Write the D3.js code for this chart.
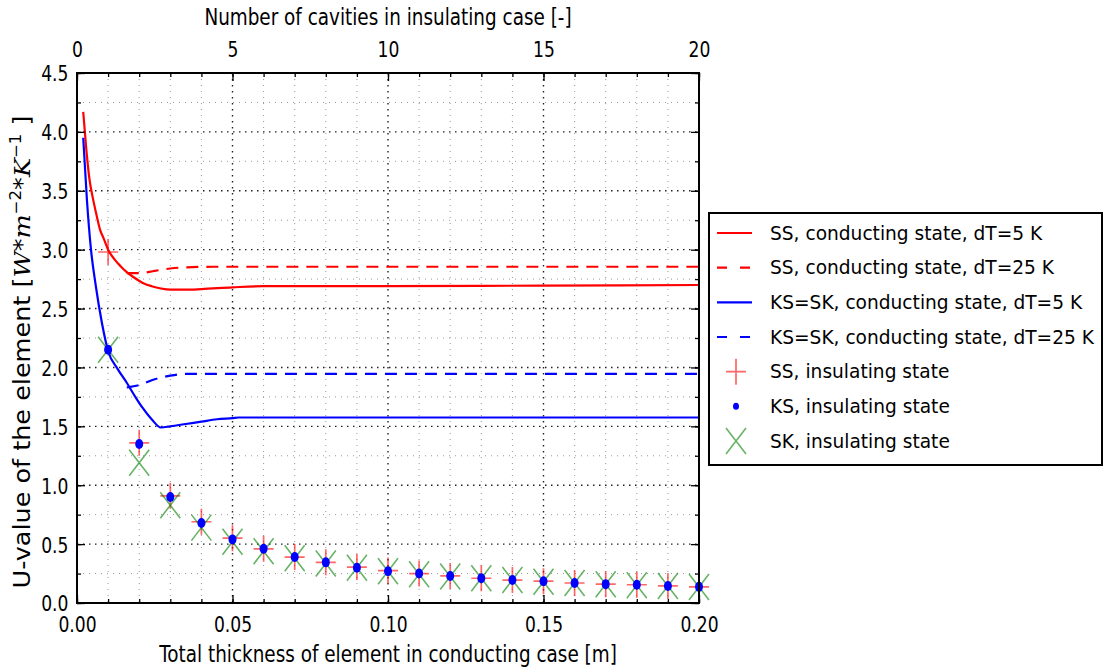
<!DOCTYPE html>
<html>
<head>
<meta charset="utf-8">
<script src="https://cdn.jsdelivr.net/npm/d3@7/dist/d3.min.js"></script>
<style>
  body { margin: 0; background: #fff; }
  text { font-family: "DejaVu Sans", sans-serif; fill: #000; }
</style>
</head>
<body>
<svg id="chart" width="1106" height="671"></svg>
<script>
// conducting state curves (thickness in m -> U-value)
var ssX5 = [0.002, 0.003, 0.004, 0.005, 0.0064, 0.0074, 0.0085, 0.01, 0.012, 0.014, 0.016, 0.018, 0.021, 0.024, 0.027, 0.03, 0.035, 0.04, 0.05, 0.06, 0.08, 0.1, 0.15, 0.2];
var ssY5 = [4.17, 3.85, 3.6, 3.45, 3.28, 3.17, 3.1, 3.0, 2.92, 2.86, 2.81, 2.77, 2.72, 2.69, 2.67, 2.66, 2.66, 2.665, 2.68, 2.69, 2.69, 2.69, 2.695, 2.70];
var ssX25 = [0.016, 0.02, 0.025, 0.03, 0.035, 0.045, 0.06, 0.2];
var ssY25 = [2.80, 2.80, 2.82, 2.84, 2.85, 2.855, 2.855, 2.855];
var ksX5 = [0.002, 0.0032, 0.0045, 0.006, 0.008, 0.01, 0.013, 0.016, 0.019, 0.021, 0.024, 0.027, 0.03, 0.035, 0.04, 0.045, 0.05, 0.052, 0.08, 0.12, 0.2];
var ksY5 = [3.95, 3.42, 3.0, 2.7, 2.38, 2.14, 1.99, 1.87, 1.74, 1.66, 1.56, 1.49, 1.50, 1.52, 1.54, 1.56, 1.57, 1.575, 1.575, 1.575, 1.575];
var ksX25 = [0.016, 0.02, 0.025, 0.03, 0.035, 0.05, 0.2];
var ksY25 = [1.83, 1.85, 1.90, 1.93, 1.945, 1.945, 1.945];

// insulating state points (one per cavity)
var cavX = [0.01, 0.02, 0.03, 0.04, 0.05, 0.06, 0.07, 0.08, 0.09, 0.10, 0.11, 0.12, 0.13, 0.14, 0.15, 0.16, 0.17, 0.18, 0.19, 0.20];
var ssIns = [2.98, 1.36, 0.91, 0.69, 0.55, 0.46, 0.39, 0.345, 0.305, 0.275, 0.25, 0.23, 0.21, 0.195, 0.185, 0.17, 0.16, 0.155, 0.145, 0.137];
var ksIns = [2.15, 1.35, 0.90, 0.68, 0.54, 0.46, 0.39, 0.345, 0.30, 0.27, 0.25, 0.23, 0.21, 0.195, 0.185, 0.17, 0.16, 0.155, 0.145, 0.137];
var skIns = [2.15, 1.19, 0.83, 0.64, 0.52, 0.44, 0.38, 0.335, 0.30, 0.27, 0.245, 0.225, 0.21, 0.195, 0.18, 0.17, 0.16, 0.15, 0.145, 0.135];

var xTicks = [0, 0.05, 0.10, 0.15, 0.20];
var topTicks = [0, 5, 10, 15, 20];
var yTicks = [0, 0.5, 1.0, 1.5, 2.0, 2.5, 3.0, 3.5, 4.0, 4.5];

var legendLabels = ["SS, conducting state, dT=5 K", "SS, conducting state, dT=25 K",
  "KS=SK, conducting state, dT=5 K", "KS=SK, conducting state, dT=25 K",
  "SS, insulating state", "KS, insulating state", "SK, insulating state"];

var pL = 77, pR = 699, pT = 73, pB = 603;
var sx = 0.78; // text looks squeezed sideways in the reference

var svg = d3.select("#chart");

var x = d3.scaleLinear().domain([0, 0.2]).range([pL, pR]);
var x2 = d3.scaleLinear().domain([0, 20]).range([pL, pR]);
var y = d3.scaleLinear().domain([0, 4.5]).range([pB, pT]);

// grid
var grid = svg.append("g");
d3.range(1, 20).forEach(function(i) {
  var v = i / 100, major = i % 5 == 0;
  grid.append("line")
    .attr("x1", x(v)).attr("x2", x(v)).attr("y1", pT).attr("y2", pB)
    .attr("stroke", major ? "#222" : "#999")
    .attr("stroke-width", major ? 1.4 : 1)
    .attr("stroke-dasharray", major ? "1.5,4.5" : "1,5");
});
d3.range(1, 18).forEach(function(i) {
  var v = i * 0.25, major = i % 2 == 0;
  grid.append("line")
    .attr("x1", pL).attr("x2", pR).attr("y1", y(v)).attr("y2", y(v))
    .attr("stroke", major ? "#222" : "#999")
    .attr("stroke-width", major ? 1.4 : 1)
    .attr("stroke-dasharray", major ? "1.5,4.5" : "1,5");
});

// lines
var line = d3.line()
  .x(function(d) { return x(d[0]); })
  .y(function(d) { return y(d[1]); })
  .curve(d3.curveMonotoneX);

function zip(a, b) { return a.map(function(v, i) { return [v, b[i]]; }); }

var curves = [
  {data: zip(ssX5, ssY5), color: "#ff0000", dash: null},
  {data: zip(ssX25, ssY25), color: "#ff0000", dash: "12,8"},
  {data: zip(ksX5, ksY5), color: "#0000ff", dash: null},
  {data: zip(ksX25, ksY25), color: "#0000ff", dash: "12,8"}
];
curves.forEach(function(c) {
  svg.append("path")
    .datum(c.data)
    .attr("d", line)
    .attr("fill", "none")
    .attr("stroke", c.color)
    .attr("stroke-width", 2.2)
    .attr("stroke-dasharray", c.dash);
});

// markers
function plus(g, cx, cy) {
  g.append("path")
    .attr("d", "M" + (cx - 10) + "," + cy + "H" + (cx + 10) + "M" + cx + "," + (cy - 13) + "V" + (cy + 13))
    .attr("stroke", "#ff0000").attr("stroke-opacity", 0.6).attr("stroke-width", 1.7).attr("fill", "none");
}
function cross(g, cx, cy) {
  g.append("path")
    .attr("d", "M" + (cx - 10) + "," + (cy - 13) + "L" + (cx + 10) + "," + (cy + 13) +
               "M" + (cx - 10) + "," + (cy + 13) + "L" + (cx + 10) + "," + (cy - 13))
    .attr("stroke", "#008000").attr("stroke-opacity", 0.6).attr("stroke-width", 1.6).attr("fill", "none");
}
function dot(g, cx, cy) {
  g.append("ellipse").attr("cx", cx).attr("cy", cy).attr("rx", 4).attr("ry", 5)
    .attr("fill", "#0000ff");
}

var marks = svg.append("g");
cavX.forEach(function(v, i) { plus(marks, x(v), y(ssIns[i])); });
cavX.forEach(function(v, i) { cross(marks, x(v), y(skIns[i])); });
cavX.forEach(function(v, i) { dot(marks, x(v), y(ksIns[i])); });

// axes
function styleTicks(g) {
  g.select(".domain").remove();
  g.selectAll("line").attr("stroke", "#000").attr("stroke-width", 1.3);
}

var xMinor = d3.range(0, 21).map(function(i) { return i / 100; });
svg.append("g").attr("transform", "translate(0," + pB + ")")
  .call(d3.axisBottom(x).tickValues(xMinor).tickSize(-4).tickFormat(""))
  .call(styleTicks);
svg.append("g").attr("transform", "translate(0," + pT + ")")
  .call(d3.axisTop(x2).tickValues(d3.range(0, 21)).tickSize(-4).tickFormat(""))
  .call(styleTicks);
var yMinor = d3.range(0, 19).map(function(i) { return i * 0.25; });
svg.append("g").attr("transform", "translate(" + pL + ",0)")
  .call(d3.axisLeft(y).tickValues(yMinor).tickSize(-4).tickFormat(""))
  .call(styleTicks);
svg.append("g").attr("transform", "translate(" + pR + ",0)")
  .call(d3.axisRight(y).tickValues(yMinor).tickSize(-4).tickFormat(""))
  .call(styleTicks);

var xAxis = svg.append("g").attr("transform", "translate(0," + pB + ")")
  .call(d3.axisBottom(x).tickValues(xTicks).tickSize(-8).tickPadding(13).tickFormat(d3.format(".2f")))
  .call(styleTicks);
var topAxis = svg.append("g").attr("transform", "translate(0," + pT + ")")
  .call(d3.axisTop(x2).tickValues(topTicks).tickSize(-8).tickPadding(16).tickFormat(d3.format("d")))
  .call(styleTicks);
var yAxis = svg.append("g").attr("transform", "translate(" + pL + ",0)")
  .call(d3.axisLeft(y).tickValues(yTicks).tickSize(-8).tickPadding(10).tickFormat(d3.format(".1f")))
  .call(styleTicks);
svg.append("g").attr("transform", "translate(" + pR + ",0)")
  .call(d3.axisRight(y).tickValues(yTicks).tickSize(-8).tickFormat(""))
  .call(styleTicks);

[xAxis, topAxis, yAxis].forEach(function(a) {
  a.selectAll("text")
    .style("font-family", "DejaVu Sans")
    .style("font-size", "22px")
    .attr("fill", "#000");
});
xAxis.selectAll("text").attr("transform", "scale(" + sx + ",1)");
topAxis.selectAll("text").attr("transform", "scale(" + sx + ",1)");
yAxis.selectAll("text").attr("x", -11).attr("dy", "0.36em")
  .attr("transform", "scale(" + sx + ",1)");

// frame
svg.append("rect")
  .attr("x", pL).attr("y", pT).attr("width", pR - pL).attr("height", pB - pT)
  .attr("fill", "none").attr("stroke", "#000").attr("stroke-width", 2);

// axis titles
svg.append("text")
  .attr("transform", "translate(" + ((pL + pR) / 2) + ",662) scale(0.8,1)")
  .attr("text-anchor", "middle")
  .style("font-size", "23px")
  .text("Total thickness of element in conducting case [m]");
svg.append("text")
  .attr("transform", "translate(" + ((pL + pR) / 2) + ",25) scale(0.8,1)")
  .attr("text-anchor", "middle")
  .style("font-size", "23px")
  .text("Number of cavities in insulating case [-]");

var ylab = svg.append("text")
  .attr("transform", "translate(30,352) rotate(-90) scale(1.11,1)")
  .attr("text-anchor", "middle")
  .style("font-size", "23px");
ylab.append("tspan").text("U-value of the element [");
var mathFont = "DejaVu Serif";
ylab.append("tspan").style("font-family", mathFont).style("font-style", "italic").text("W");
ylab.append("tspan").text("*");
ylab.append("tspan").style("font-family", mathFont).style("font-style", "italic").text("m");
ylab.append("tspan").attr("dy", -9).style("font-size", "15px").text("\u22122");
ylab.append("tspan").attr("dy", 9).text("*");
ylab.append("tspan").style("font-family", mathFont).style("font-style", "italic").text("K");
ylab.append("tspan").attr("dy", -9).style("font-size", "15px").text("\u22121");
ylab.append("tspan").attr("dy", 9).text(" ]");

// legend
var lg = svg.append("g");
lg.append("rect")
  .attr("x", 709).attr("y", 213).attr("width", 393).attr("height", 252)
  .attr("fill", "#fff").attr("stroke", "#000").attr("stroke-width", 2);

var rowY = d3.scaleLinear().domain([0, 6]).range([233, 441]);
legendLabels.forEach(function(lbl, i) {
  var cy = rowY(i);
  if (i < 4) {
    lg.append("line")
      .attr("x1", 717).attr("x2", 752).attr("y1", cy).attr("y2", cy)
      .attr("stroke", i < 2 ? "#ff0000" : "#0000ff")
      .attr("stroke-width", 2.2)
      .attr("stroke-dasharray", i % 2 == 1 ? "10,13" : null);
  } else if (i == 4) {
    plus(lg, 736, cy);
  } else if (i == 5) {
    lg.append("ellipse").attr("cx", 736).attr("cy", cy).attr("rx", 3).attr("ry", 3.5).attr("fill", "#0000ff");
  } else {
    cross(lg, 736, cy);
  }
  lg.append("text")
    .attr("x", 770).attr("y", cy).attr("dy", "0.36em")
    .style("font-size", "18.6px")
    .text(lbl);
});
</script>
</body>
</html>
